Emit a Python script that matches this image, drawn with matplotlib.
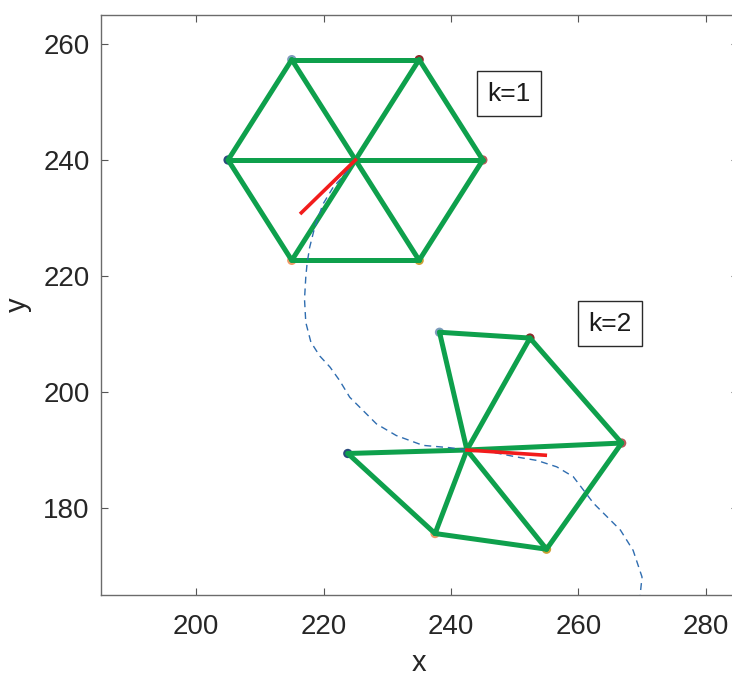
"""Two snapshots of a hexagonal formation moving along a dashed trajectory."""

import matplotlib

matplotlib.use("Agg")
import matplotlib.pyplot as plt

plt.rcParams["font.family"] = ["Liberation Sans", "DejaVu Sans"]

# vertex order: left, bottom-left, bottom-right, right, top-right, top-left
hex1_center = (225.0, 240.0)
hex1_x = [205.0, 215.0, 235.0, 245.0, 235.0, 215.0]
hex1_y = [240.0, 222.7, 222.7, 240.0, 257.3, 257.3]
hex1_sides = [(0, 1), (1, 2), (2, 3), (3, 4), (4, 5), (5, 0)]

hex2_center = (242.5, 190.0)
hex2_x = [223.8, 237.5, 255.0, 266.8, 252.4, 238.2]
hex2_y = [189.4, 175.6, 172.9, 191.2, 209.3, 210.3]
hex2_sides = [(0, 1), (1, 2), (2, 3), (3, 4), (4, 5)]

# heading segments (red)
heading1_x = [225.0, 216.5]
heading1_y = [240.0, 230.9]
heading2_x = [242.5, 254.8]
heading2_y = [190.0, 189.1]

# trajectory of the formation centre
path_x = [225.0, 223.4, 221.5, 219.9, 218.6, 217.8, 217.4, 217.2, 217.0, 217.2,
          218.0, 219.4, 221.0, 222.5, 224.1, 226.2, 228.3, 231.4, 235.6, 239.8,
          242.5, 246.1, 250.3, 253.5, 256.6, 259.2, 260.8, 262.4, 264.5, 266.6,
          268.6, 270.0, 269.7]
path_y = [240.0, 237.6, 235.3, 232.4, 228.4, 224.9, 222.1, 219.8, 216.0, 212.0,
          208.6, 206.2, 204.3, 202.0, 199.1, 196.8, 194.5, 192.5, 190.8, 190.4,
          190.0, 189.7, 188.8, 188.2, 187.1, 185.4, 183.1, 180.8, 178.5, 176.2,
          172.7, 168.1, 165.0]

vertex_colors = ["#2a4a7c", "#f29a68", "#c9a032", "#b75a5a", "#8e2b2b", "#7f9cbd"]
labels = ["k=1", "k=2"]
label_pos = [(249.1, 251.4), (265.0, 211.8)]

GREEN = "#0ea04c"

fig = plt.figure(figsize=(7.32, 6.78), dpi=100)
ax = fig.add_axes([0.1376, 0.1224, 0.870, 0.8555])

for cx, cy, xs, ys, sides in [
    (*hex1_center, hex1_x, hex1_y, hex1_sides),
    (*hex2_center, hex2_x, hex2_y, hex2_sides),
]:
    ax.scatter(xs, ys, s=45, c=vertex_colors, zorder=2, linewidths=0)
    for vx, vy in zip(xs, ys):
        ax.plot([cx, vx], [cy, vy], color=GREEN, lw=3.6, solid_capstyle="round", zorder=3)
    for i, j in sides:
        ax.plot([xs[i], xs[j]], [ys[i], ys[j]], color=GREEN, lw=3.6,
                solid_capstyle="round", zorder=3)

ax.plot(path_x, path_y, color="#2f6db0", lw=1.0, ls=(0, (5, 3.5)), zorder=4)
ax.plot(heading1_x, heading1_y, color="#f21c1c", lw=2.6, zorder=5)
ax.plot(heading2_x, heading2_y, color="#f21c1c", lw=2.6, zorder=5)

for text, (tx, ty) in zip(labels, label_pos):
    ax.text(tx, ty, text, fontsize=19, color="#1a1a1a", ha="center", va="center",
            bbox=dict(boxstyle="square,pad=0.4", fc="white", ec="#2a2a2a", lw=1.0),
            zorder=6)

ax.set_xlim(185, 285)
ax.set_ylim(165, 265)
ax.set_xticks([200, 220, 240, 260, 280])
ax.set_yticks([180, 200, 220, 240, 260])
ax.tick_params(direction="in", top=True, right=True, length=5, width=0.8,
               color="#555555", labelsize=20, labelcolor="#262626")
ax.tick_params(axis="x", pad=14)
ax.tick_params(axis="y", pad=8)
for spine in ax.spines.values():
    spine.set_color("#6b6b6b")
    spine.set_linewidth(1.0)

ax.set_xlabel("x", fontsize=21, color="#262626", labelpad=6)
ax.set_ylabel("y", fontsize=21, color="#262626", labelpad=8)

fig.savefig("out.png", dpi=100)
